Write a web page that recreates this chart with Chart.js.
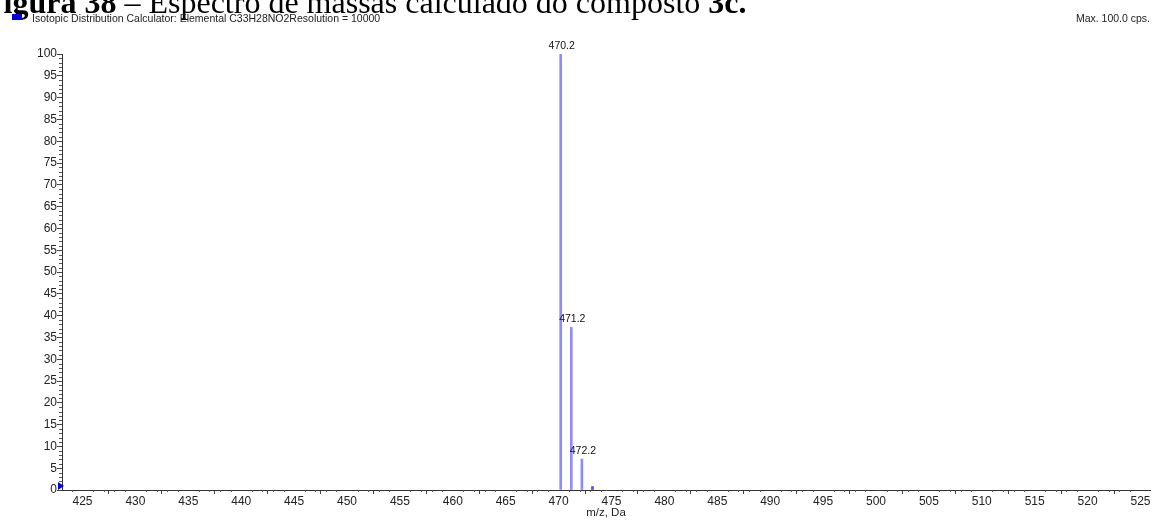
<!DOCTYPE html>
<html>
<head>
<meta charset="utf-8">
<script src="https://cdn.jsdelivr.net/npm/chart.js@4.4.0/dist/chart.umd.min.js"></script>
<style>
  html, body { margin: 0; padding: 0; background: #fff; }
  #wrap { width: 1161px; height: 520px; position: relative; }
</style>
</head>
<body>
<div id="wrap"><canvas id="spectrum"></canvas></div>
<script>
// peaks
const massas = [470.2, 471.2, 472.2, 473.2]
const intensidades = [100, 37.3, 7.1, 0.8]
const rotulos = ['470.2', '471.2', '472.2', '']
const corPico = ['#8c8cff', '#8c8cff', '#8c8cff', '#5050e0']
const ticksX = [425, 430, 435, 440, 445, 450, 455, 460, 465, 470, 475, 480, 485, 490, 495, 500, 505, 510, 515, 520, 525]

const legenda = 'Isotopic Distribution Calculator: Elemental C33H28NO2Resolution = 10000'
const maxTexto = 'Max. 100.0 cps.'

// minor ticks every 1 unit, labels every 5
const minorTicks = {
    id: 'minorTicks',
    afterDraw(chart) {
        const ctx = chart.ctx
        const x = chart.scales.x
        const y = chart.scales.y
        ctx.save()
        ctx.strokeStyle = '#555'
        ctx.lineWidth = 1
        ctx.beginPath()
        for (let v = Math.ceil(x.min); v <= x.max; v++) {
            if (v % 5 === 0) continue
            const px = Math.round(x.getPixelForValue(v)) + 0.5
            ctx.moveTo(px, y.bottom)
            ctx.lineTo(px, y.bottom + 2)
        }
        for (let v = 0; v <= 100; v++) {
            if (v % 5 === 0) continue
            const py = Math.round(y.getPixelForValue(v)) + 0.5
            ctx.moveTo(x.left, py)
            ctx.lineTo(x.left - 3, py)
        }
        ctx.stroke()

        // peak labels
        ctx.fillStyle = '#111'
        ctx.font = '10.5px Arial, "Liberation Sans"'
        ctx.textAlign = 'center'
        ctx.textBaseline = 'bottom'
        massas.forEach((m, i) => {
            if (!rotulos[i]) return
            ctx.fillText(rotulos[i], x.getPixelForValue(m) + 1, y.getPixelForValue(intensidades[i]) - 3)
        })

        // little marker at zero
        const py0 = y.getPixelForValue(0)
        ctx.fillStyle = '#0000e0'
        ctx.beginPath()
        ctx.moveTo(x.left - 4, py0 - 8)
        ctx.lineTo(x.left + 2, py0 - 4)
        ctx.lineTo(x.left - 4, py0)
        ctx.closePath()
        ctx.fill()
        ctx.restore()
    }
}

// page caption, legend and max text
const cabecalho = {
    id: 'cabecalho',
    afterDraw(chart) {
        const ctx = chart.ctx
        ctx.save()
        ctx.textBaseline = 'alphabetic'
        ctx.fillStyle = '#000'
        let cx = -16
        const partes = [
            ['bold 32px "Liberation Serif", "Times New Roman"', 'Figura 38'],
            ['32px "Liberation Serif", "Times New Roman"', ' \u2013 Espectro de massas calculado do composto '],
            ['bold 32px "Liberation Serif", "Times New Roman"', '3c.']
        ]
        partes.forEach(p => {
            ctx.font = p[0]
            ctx.fillText(p[1], cx, 13)
            cx += ctx.measureText(p[1]).width
        })

        ctx.fillStyle = '#0000e0'
        ctx.fillRect(12, 14, 10, 6)
        ctx.fillStyle = '#222'
        ctx.font = '10.5px Arial, "Liberation Sans"'
        ctx.textAlign = 'left'
        ctx.fillText(legenda, 32, 22)
        ctx.textAlign = 'right'
        ctx.fillText(maxTexto, 1150, 22)
        ctx.restore()
    }
}

new Chart(document.getElementById('spectrum'), {
    type: 'bar',
    data: {
        datasets: [
            {
                data: massas.map((m, i) => ({ x: m, y: intensidades[i] })),
                backgroundColor: corPico,
                barThickness: 2,
                borderWidth: 0
            }
        ]
    },
    options: {
        responsive: true,
        maintainAspectRatio: false,
        animation: false,
        layout: { padding: { top: 54, right: 11, left: 0, bottom: 0 } },
        plugins: {
            legend: { display: false },
            tooltip: { enabled: false }
        },
        scales: {
            x: {
                type: 'linear',
                min: 423.06,
                max: 525.9,
                offset: false,
                afterBuildTicks: scale => {
                    scale.ticks = ticksX.map(v => ({ value: v }))
                },
                afterFit: scale => { scale.height = 30 },
                ticks: {
                    color: '#222',
                    font: { family: 'Arial, "Liberation Sans"', size: 12 },
                    padding: 0,
                    maxRotation: 0,
                    autoSkip: false
                },
                grid: { drawOnChartArea: false, tickLength: 4, color: '#444' },
                border: { color: '#333' },
                title: {
                    display: true,
                    text: 'm/z, Da',
                    color: '#222',
                    font: { family: 'Arial, "Liberation Sans"', size: 11.5 },
                    padding: 0
                }
            },
            y: {
                min: 0,
                max: 100,
                afterFit: scale => { scale.width = 62 },
                ticks: {
                    stepSize: 5,
                    color: '#222',
                    font: { family: 'Arial, "Liberation Sans"', size: 12 },
                    padding: 0
                },
                grid: { drawOnChartArea: false, tickLength: 5, color: '#444' },
                border: { color: '#333' }
            }
        }
    },
    plugins: [minorTicks, cabecalho]
})
</script>
</body>
</html>
